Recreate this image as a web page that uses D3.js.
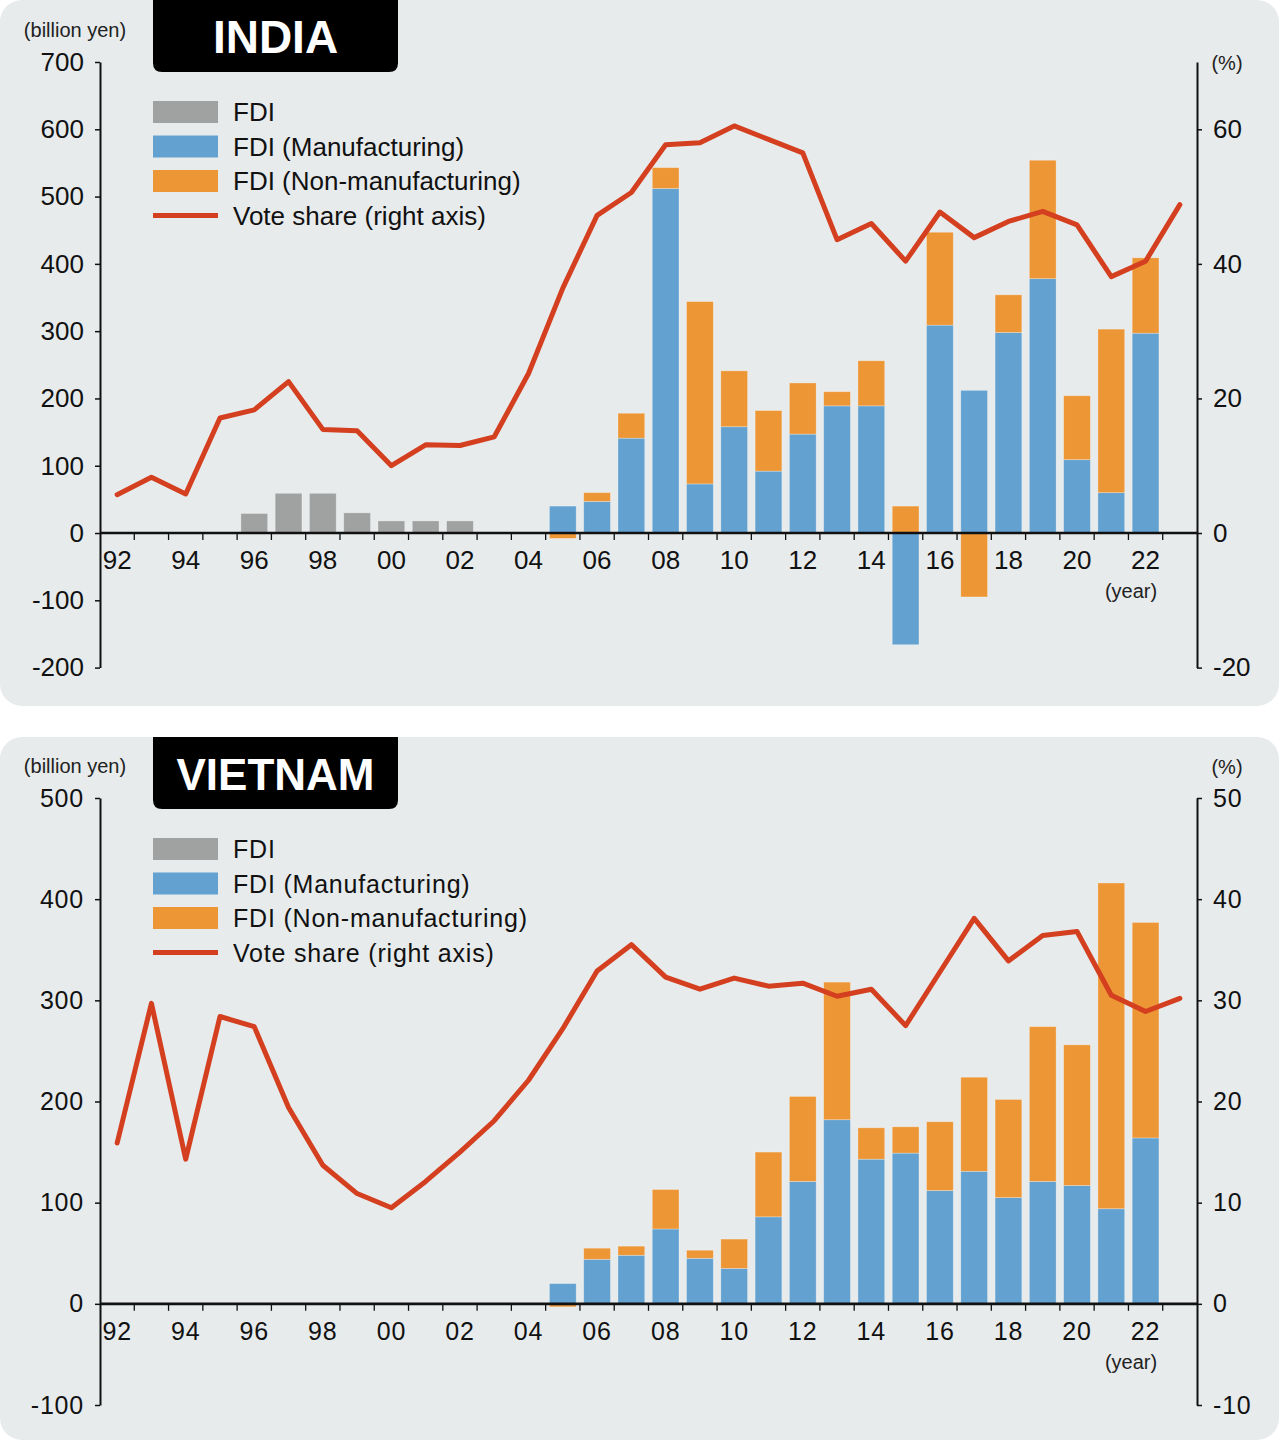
<!DOCTYPE html>
<html>
<head>
<meta charset="utf-8">
<script src="https://cdn.jsdelivr.net/npm/d3@7"></script>
<style>
  body { margin: 0; background: #fff; }
  svg { display: block; }
</style>
</head>
<body>
<svg id="chart" width="1280" height="1444"></svg>
<script>
// years on the x axis (1992 - 2023)
const years = [1992, 1993, 1994, 1995, 1996, 1997, 1998, 1999, 2000, 2001, 2002, 2003,
  2004, 2005, 2006, 2007, 2008, 2009, 2010, 2011, 2012, 2013, 2014, 2015,
  2016, 2017, 2018, 2019, 2020, 2021, 2022, 2023];

const legendLabels = ['FDI', 'FDI (Manufacturing)', 'FDI (Non-manufacturing)', 'Vote share (right axis)'];

// INDIA (billion yen / %)
const indiaFdi = [null, null, null, null, 29, 59, 59, 30, 18, 18, 18, null,
  null, null, null, null, null, null, null, null, null, null, null, null,
  null, null, null, null, null, null, null, null];
const indiaManuf = [null, null, null, null, null, null, null, null, null, null, null, null,
  null, 40, 47, 141, 512, 73, 158, 92, 147, 189, 189, -166,
  309, 212, 298, 378, 109, 60, 297, null];
const indiaNonManuf = [null, null, null, null, null, null, null, null, null, null, null, null,
  null, -8, 13, 37, 31, 271, 83, 90, 76, 21, 67, 40,
  138, -95, 56, 176, 95, 243, 112, null];
const indiaVote = [5.7, 8.3, 5.8, 17.1, 18.3, 22.5, 15.4, 15.2, 10.0, 13.1, 13.0, 14.3,
  23.7, 36.4, 47.2, 50.6, 57.7, 58.0, 60.5, 58.5, 56.5, 43.6, 46.0, 40.4,
  47.7, 43.9, 46.3, 47.8, 45.8, 38.1, 40.4, 48.8];
const indiaLeftTicks = [-200, -100, 0, 100, 200, 300, 400, 500, 600, 700];
const indiaRightTicks = [-20, 0, 20, 40, 60];

// VIETNAM (billion yen / %)
const vnFdi = [];
const vnManuf = [null, null, null, null, null, null, null, null, null, null, null, null,
  null, 20, 44, 48, 74, 45, 35, 86, 121, 182, 143, 149,
  112, 131, 105, 121, 117, 94, 164, null];
const vnNonManuf = [null, null, null, null, null, null, null, null, null, null, null, null,
  null, -3, 11, 9, 39, 8, 29, 64, 84, 136, 31, 26,
  68, 93, 97, 153, 139, 322, 213, null];
const vnVote = [15.9, 29.7, 14.3, 28.4, 27.4, 19.4, 13.7, 10.9, 9.5, 12.1, 15.0, 18.1,
  22.1, 27.2, 32.9, 35.5, 32.3, 31.1, 32.2, 31.4, 31.7, 30.4, 31.1, 27.5,
  32.8, 38.1, 33.9, 36.4, 36.8, 30.5, 28.9, 30.2];
const vnLeftTicks = [-100, 0, 100, 200, 300, 400, 500];
const vnRightTicks = [-10, 0, 10, 20, 30, 40, 50];

const colors = {
  fdi: '#a0a1a1',
  manuf: '#63a1d0',
  non: '#ec9636',
  vote: '#d43f1f',
  bg: '#e7ebec'
};

const svg = d3.select('#chart');

function drawPanel(opt) {
  const g = svg.append('g')
    .style('font-family', '"Liberation Sans", Arial, sans-serif');

  // panel background
  g.append('rect')
    .attr('x', 0).attr('y', opt.top)
    .attr('width', 1279).attr('height', opt.height)
    .attr('rx', 22)
    .attr('fill', colors.bg);

  const x = d3.scaleBand()
    .domain(years)
    .range([100, 1197])
    .paddingInner(0.22)
    .paddingOuter(0.11);
  const yL = d3.scaleLinear().domain(opt.leftDomain).range([opt.yBottom, opt.yTop]);
  const yR = d3.scaleLinear().domain(opt.rightDomain).range([opt.yBottom, opt.yTop]);
  const y0 = yL(0);

  // gray FDI bars (no breakdown)
  const fdiRows = years.map((yr, i) => ({ year: yr, v: opt.fdi[i] }))
    .filter(d => d.v != null);
  g.append('g').selectAll('rect')
    .data(fdiRows)
    .join('rect')
    .attr('x', d => x(d.year))
    .attr('width', x.bandwidth())
    .attr('y', d => yL(Math.max(0, d.v)))
    .attr('height', d => Math.abs(yL(d.v) - y0))
    .attr('fill', colors.fdi)
    .attr('stroke', 'rgba(255,255,255,0.35)')
    .attr('stroke-width', 0.8);

  // stacked manufacturing / non-manufacturing
  const rows = years.map((yr, i) => ({
    year: yr,
    manuf: opt.manuf[i] || 0,
    non: opt.non[i] || 0
  }));
  const series = d3.stack()
    .keys(['manuf', 'non'])
    .offset(d3.stackOffsetDiverging)(rows);

  g.append('g').selectAll('g')
    .data(series)
    .join('g')
    .attr('fill', d => colors[d.key])
    .selectAll('rect')
    .data(d => d.filter(s => s[1] !== s[0]))
    .join('rect')
    .attr('x', d => x(d.data.year))
    .attr('width', x.bandwidth())
    .attr('y', d => yL(d[1]))
    .attr('height', d => yL(d[0]) - yL(d[1]))
    .attr('stroke', 'rgba(255,255,255,0.35)')
    .attr('stroke-width', 0.8);

  // left axis
  const leftAxis = d3.axisLeft(yL)
    .tickValues(opt.leftTicks)
    .tickFormat(d => String(d))
    .tickSize(5)
    .tickSizeOuter(0)
    .tickPadding(11);
  const la = g.append('g')
    .attr('transform', 'translate(100,0)')
    .call(leftAxis);
  la.select('.domain').attr('stroke', '#111').attr('stroke-width', 2);
  la.selectAll('.tick line').attr('stroke', '#111').attr('stroke-width', 1.5);
  la.selectAll('.tick text')
    .style('font-size', opt.tickFont + 'px')
    .style('letter-spacing', opt.spacing + 'px')
    .attr('fill', '#111');

  // right axis
  const rightAxis = d3.axisRight(yR)
    .tickValues(opt.rightTicks)
    .tickFormat(d => String(d))
    .tickSize(5)
    .tickSizeOuter(0)
    .tickPadding(11);
  const ra = g.append('g')
    .attr('transform', 'translate(1197,0)')
    .call(rightAxis);
  ra.select('.domain').attr('stroke', '#111').attr('stroke-width', 2);
  ra.selectAll('.tick line').attr('stroke', '#111').attr('stroke-width', 1.5);
  ra.selectAll('.tick text')
    .style('font-size', opt.tickFont + 'px')
    .style('letter-spacing', opt.spacing + 'px')
    .attr('fill', '#111');

  // zero line and year ticks
  const step = x.step();
  g.append('g').selectAll('line')
    .data(years.slice(1))
    .join('line')
    .attr('x1', d => x(d) - step * x.paddingInner() / 2)
    .attr('x2', d => x(d) - step * x.paddingInner() / 2)
    .attr('y1', y0)
    .attr('y2', y0 + 7)
    .attr('stroke', '#111')
    .attr('stroke-width', 1.3);

  g.append('line')
    .attr('x1', 100).attr('x2', 1197)
    .attr('y1', y0).attr('y2', y0)
    .attr('stroke', '#111')
    .attr('stroke-width', 2.6);

  g.append('g').selectAll('text')
    .data(years.filter(d => d % 2 === 0))
    .join('text')
    .attr('x', d => x(d) + x.bandwidth() / 2)
    .attr('y', y0 + 36)
    .attr('text-anchor', 'middle')
    .style('font-size', opt.tickFont + 'px')
    .style('letter-spacing', opt.spacing + 'px')
    .attr('fill', '#111')
    .text(d => String(d).slice(2));

  g.append('text')
    .attr('x', 1131).attr('y', y0 + 65)
    .attr('text-anchor', 'middle')
    .style('font-size', '20px')
    .attr('fill', '#222')
    .text('(year)');

  // vote share line
  const line = d3.line()
    .x((d, i) => x(years[i]) + x.bandwidth() / 2)
    .y(d => yR(d));
  g.append('path')
    .datum(opt.vote)
    .attr('d', line)
    .attr('fill', 'none')
    .attr('stroke', colors.vote)
    .attr('stroke-width', 5)
    .attr('stroke-linejoin', 'round')
    .attr('stroke-linecap', 'round');

  // unit labels
  g.append('text')
    .attr('x', 75).attr('y', opt.yTop - 25)
    .attr('text-anchor', 'middle')
    .style('font-size', '20px')
    .attr('fill', '#222')
    .text('(billion yen)');
  g.append('text')
    .attr('x', 1227).attr('y', opt.pctY)
    .attr('text-anchor', 'middle')
    .style('font-size', '20px')
    .attr('fill', '#222')
    .text('(%)');

  // title box
  const bx0 = 153, bx1 = 398, by0 = opt.top, by1 = opt.top + 72, r = 9;
  g.append('path')
    .attr('d', `M${bx0},${by0}H${bx1}V${by1 - r}Q${bx1},${by1} ${bx1 - r},${by1}H${bx0 + r}Q${bx0},${by1} ${bx0},${by1 - r}Z`)
    .attr('fill', '#000');
  g.append('text')
    .attr('x', (bx0 + bx1) / 2)
    .attr('y', by0 + 53)
    .attr('text-anchor', 'middle')
    .style('font-size', opt.titleFont + 'px')
    .style('font-weight', 'bold')
    .attr('fill', '#fff')
    .text(opt.title);

  // legend
  const legend = g.append('g')
    .selectAll('g')
    .data(legendLabels)
    .join('g')
    .attr('transform', (d, i) => `translate(153,${opt.legendTop + i * 34.5})`);
  legend.each(function(d, i) {
    const item = d3.select(this);
    if (i < 3) {
      item.append('rect')
        .attr('x', 0).attr('y', -11)
        .attr('width', 65).attr('height', 22)
        .attr('fill', [colors.fdi, colors.manuf, colors.non][i]);
    } else {
      item.append('line')
        .attr('x1', 0).attr('x2', 65)
        .attr('stroke', colors.vote)
        .attr('stroke-width', 5);
    }
    item.append('text')
      .attr('x', 80).attr('y', 9)
      .style('font-size', opt.legendFont + 'px')
      .style('letter-spacing', opt.spacing + 'px')
      .attr('fill', '#111')
      .text(d);
  });
}

drawPanel({
  title: 'INDIA',
  top: 0, height: 706,
  yTop: 62, yBottom: 667.6,
  leftDomain: [-200, 700], rightDomain: [-20, 70],
  leftTicks: indiaLeftTicks, rightTicks: indiaRightTicks,
  fdi: indiaFdi, manuf: indiaManuf, non: indiaNonManuf, vote: indiaVote,
  legendTop: 112, pctY: 70,
  tickFont: 26, legendFont: 26, titleFont: 46, spacing: 0
});

drawPanel({
  title: 'VIETNAM',
  top: 737, height: 703,
  yTop: 798, yBottom: 1405,
  leftDomain: [-100, 500], rightDomain: [-10, 50],
  leftTicks: vnLeftTicks, rightTicks: vnRightTicks,
  fdi: vnFdi, manuf: vnManuf, non: vnNonManuf, vote: vnVote,
  legendTop: 849, pctY: 774,
  tickFont: 25, legendFont: 25, titleFont: 44, spacing: 0.8
});
</script>
</body>
</html>
